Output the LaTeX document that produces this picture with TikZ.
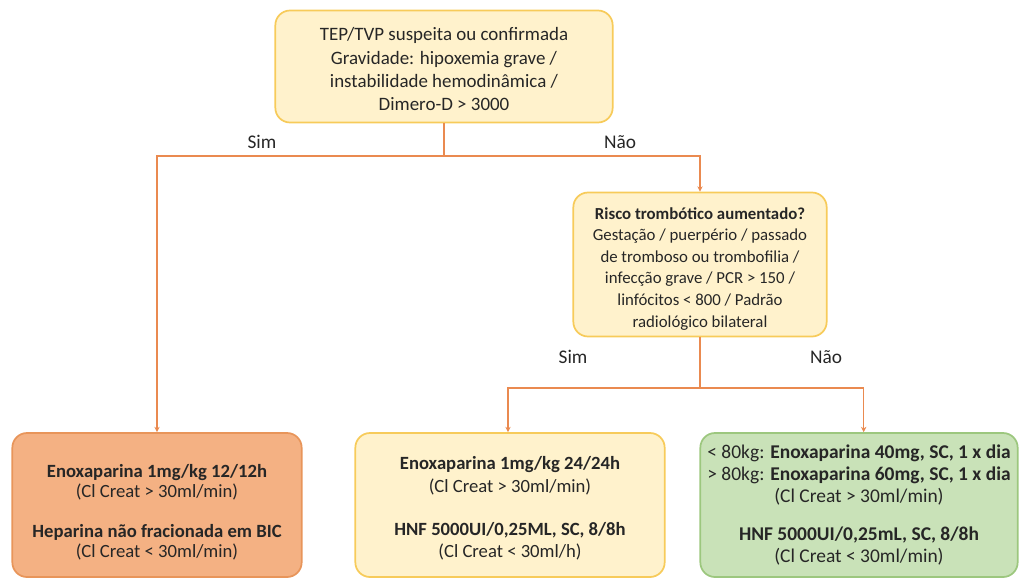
\documentclass[tikz,border=0pt]{standalone}
\usepackage{fontspec}
\setmainfont{Carlito}
\usetikzlibrary{arrows.meta}
\definecolor{lineor}{HTML}{EA8A50}
\definecolor{yelfill}{HTML}{FFF2CC}
\definecolor{yeldraw}{HTML}{F7CB5A}
\definecolor{orfill}{HTML}{F4B183}
\definecolor{ordraw}{HTML}{E8955A}
\definecolor{grfill}{HTML}{C9E2B8}
\definecolor{grdraw}{HTML}{9CC77E}
\definecolor{txt}{HTML}{262626}
\newcommand{\dn}[1]{\rule{0pt}{#1}}
\tikzset{
  box/.style={rectangle, rounded corners=11pt, line width=1.3pt, align=center, inner sep=0pt, text=txt},
  ybox/.style={box, fill=yelfill, draw=yeldraw},
  obox/.style={box, fill=orfill, draw=ordraw},
  gbox/.style={box, fill=grfill, draw=grdraw},
  conn/.style={draw=lineor, line width=1pt},
  arr/.style={conn, -{Stealth[length=4pt,width=4pt]}},
  lbl/.style={font=\fontsize{14.5}{16}\selectfont, text=txt, inner sep=0pt}
}
\begin{document}
\begin{tikzpicture}[x=0.75pt,y=-0.75pt]
\useasboundingbox (0,0) rectangle (1020,578);
\node[ybox, minimum width=253pt, minimum height=84pt, font=\fontsize{14.2}{17.4}\selectfont] (top) at (444,66.5)
  {\dn{14pt}TEP/TVP suspeita ou confirmada\\Gravidade: hipoxemia grave /\\instabilidade hemodinâmica /\\Dimero-D > 3000};
\node[ybox, minimum width=190pt, minimum height=108pt, font=\fontsize{12.6}{16.2}\selectfont] (risco) at (700,264.5)
  {\dn{15pt}\textbf{Risco trombótico aumentado?}\\Gestação / puerpério / passado\\de tromboso ou trombofilia /\\infecção grave / PCR > 150 /\\linfócitos < 800 / Padrão\\radiológico bilateral};
\node[obox, minimum width=217pt, minimum height=108pt, font=\fontsize{14}{15}\selectfont] (left) at (157,505)
  {\dn{20pt}\textbf{Enoxaparina 1mg/kg 12/12h}\\(Cl Creat > 30ml/min)\\[15pt]\textbf{Heparina não fracionada em BIC}\\(Cl Creat < 30ml/min)};
\node[ybox, minimum width=232pt, minimum height=108pt, font=\fontsize{14}{17}\selectfont] (mid) at (510,505)
  {\dn{15pt}\textbf{Enoxaparina 1mg/kg 24/24h}\\(Cl Creat > 30ml/min)\\[15pt]\textbf{HNF 5000UI/0,25ML, SC, 8/8h}\\(Cl Creat < 30ml/h)};
\node[gbox, minimum width=238pt, minimum height=108pt, font=\fontsize{14.6}{16.5}\selectfont] (right) at (859,505)
  {\textbf{\mdseries< 80kg:} \textbf{Enoxaparina 40mg, SC, 1 x dia}\\> 80kg: \textbf{Enoxaparina 60mg, SC, 1 x dia}\\(Cl Creat > 30ml/min)\\[12pt]\textbf{HNF 5000UI/0,25mL, SC, 8/8h}\\(Cl Creat < 30ml/min)};
\coordinate (j1) at (444,156);
\coordinate (j2) at (700,388);
\draw[conn] (top.south) -- (j1);
\draw[arr] (j1) -| (left.north);
\draw[arr] (j1) -| (risco.north);
\draw[conn] (risco.south) -- (j2);
\draw[arr] (j2) -| ([xshift=-1.5pt]mid.north);
\draw[arr] (j2) -| ([xshift=3.5pt]right.north);
\node[lbl] (s1) at (262,142) {Sim};
\node[lbl] (n1) at (620,142) {Não};
\node[lbl] (s2) at (573,357) {Sim};
\node[lbl] (n2) at (826,357) {Não};
\end{tikzpicture}
\end{document}
